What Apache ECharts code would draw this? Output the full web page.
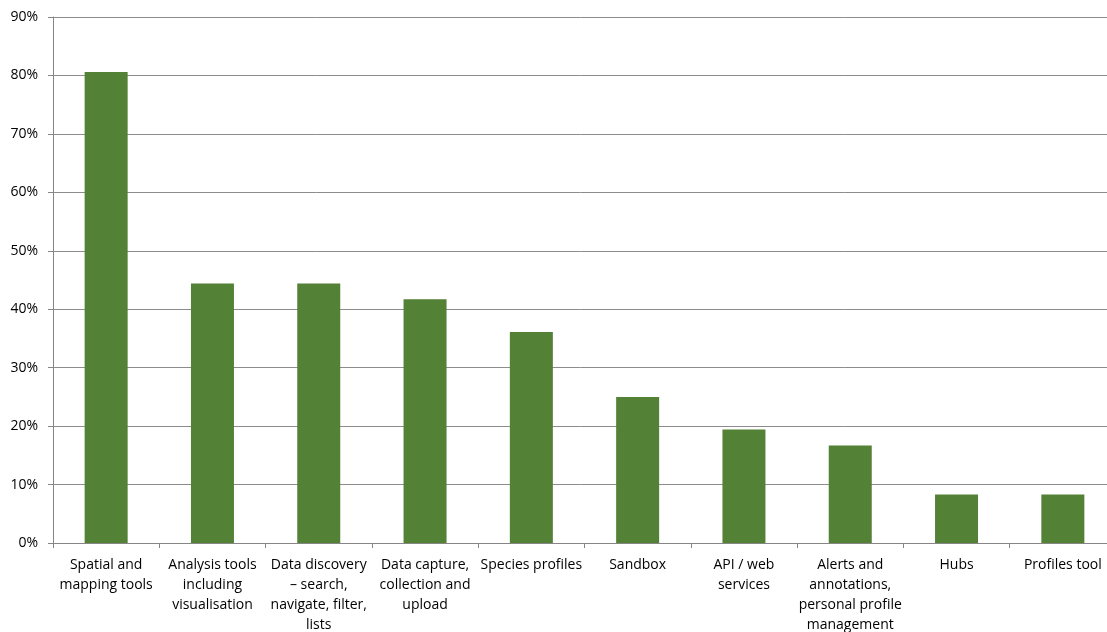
<!DOCTYPE html>
<html>
<head>
<meta charset="utf-8">
<script src="https://cdn.jsdelivr.net/npm/echarts@6/dist/echarts.min.js"></script>
<style>
html, body { margin: 0; padding: 0; background: #fff; }
#chart { width: 1107px; height: 632px; }
</style>
</head>
<body>
<div id="chart"></div>
<script>
// categories (line breaks as wrapped in the original)
const categories = [
    "Spatial and\nmapping tools",
    "Analysis tools\nincluding\nvisualisation",
    "Data discovery\n\u2013 search,\nnavigate, filter,\nlists",
    "Data capture,\ncollection and\nupload",
    "Species profiles",
    "Sandbox",
    "API / web\nservices",
    "Alerts and\nannotations,\npersonal profile\nmanagement",
    "Hubs",
    "Profiles tool"
]
// share of respondents, %
const values = [80.6, 44.4, 44.4, 41.7, 36.1, 25.0, 19.4, 16.7, 8.3, 8.3]

const chart = echarts.init(document.getElementById("chart"), null, {renderer: "canvas"})

const option = {
    animation: false,
    grid: {
        left: 53,
        right: -9,   // the original plot runs a little past the right edge
        top: 17,
        bottom: 89,
        containLabel: false,
        outerBoundsMode: "none"
    },
    xAxis: {
        type: "category",
        data: categories,
        axisLine: {lineStyle: {color: "#868686"}},
        axisTick: {show: true, length: 5, alignWithLabel: false, lineStyle: {color: "#868686"}},
        axisLabel: {
            interval: 0,
            margin: 12,
            color: "#000",
            fontFamily: "Open Sans",
            fontSize: 14,
            lineHeight: 20
        }
    },
    yAxis: {
        type: "value",
        min: 0,
        max: 90,
        interval: 10,
        axisLine: {show: true, lineStyle: {color: "#868686"}},
        axisTick: {show: true, length: 5, lineStyle: {color: "#868686"}},
        axisLabel: {
            formatter: "{value}%",
            margin: 15,
            color: "#000",
            fontFamily: "Open Sans",
            fontSize: 14
        },
        splitLine: {lineStyle: {color: "#8c8c8c", width: 1}}
    },
    series: [
        {
            type: "bar",
            data: values,
            barWidth: 43,
            itemStyle: {color: "#538135"}
        }
    ]
}

chart.setOption(option)
</script>
</body>
</html>
